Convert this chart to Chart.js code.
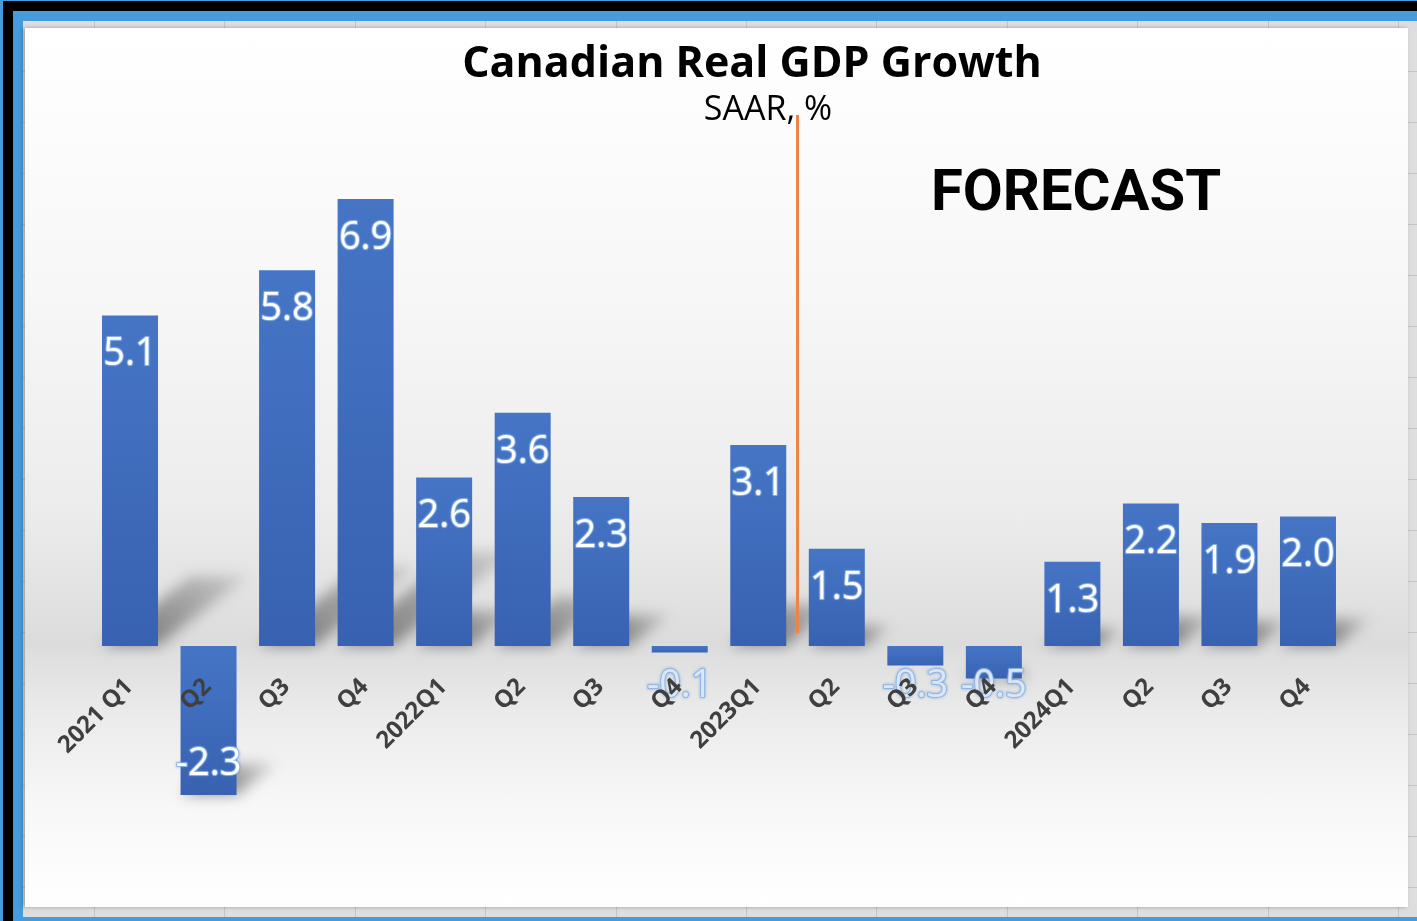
<!DOCTYPE html>
<html>
<head>
<meta charset="utf-8">
<title>Canadian Real GDP Growth</title>
<script src="https://cdn.jsdelivr.net/npm/chart.js@4.4.1/dist/chart.umd.min.js"></script>
<style>
  html, body { margin: 0; padding: 0; }
  body { width: 1417px; height: 921px; overflow: hidden; position: relative; background: #459bdb; }
  #outer { position: absolute; left: 3px; top: 1px; right: 0; bottom: 0; background: #000; }
  #inner { position: absolute; left: 13px; top: 11px; right: 0; bottom: 0; background: #459bdb; }
  #sheet {
    position: absolute; left: 23px; top: 21px; right: 0; bottom: 4px;
    background-color: #dedede;
    background-image:
      repeating-linear-gradient(to right, transparent 0, transparent 71px, #c4c4c4 71px, #c4c4c4 72px, transparent 72px, transparent 130.4px),
      repeating-linear-gradient(to bottom, transparent 0, transparent 50px, #c4c4c4 50px, #c4c4c4 51px, transparent 51px, transparent 33.5px);
  }
  #panel {
    position: absolute; left: 25px; top: 28px; width: 1383px; height: 879px;
    background: linear-gradient(to bottom, #ffffff 0%, #f7f7f7 30%, #ececec 55%, #dcdcdc 70%, #ebebeb 78%, #f7f7f7 88%, #ffffff 100%);
    box-shadow: -2px 0 4px rgba(0,0,0,0.3);
  }
  #chart { position: absolute; left: 0; top: 0; }
</style>
</head>
<body>
<div id="outer"></div>
<div id="inner"></div>
<div id="sheet"></div>
<div id="panel"></div>
<canvas id="chart" width="1417" height="921"></canvas>
<script>
// quarterly real GDP growth, SAAR %
const quarters = ["2021 Q1", "Q2", "Q3", "Q4", "2022Q1", "Q2", "Q3", "Q4",
                  "2023Q1", "Q2", "Q3", "Q4", "2024Q1", "Q2", "Q3", "Q4"];
const growth = [5.1, -2.3, 5.8, 6.9, 2.6, 3.6, 2.3, -0.1,
                3.1, 1.5, -0.3, -0.5, 1.3, 2.2, 1.9, 2.0];
const forecastStart = 8.5; // split between 2023Q1 and Q2

const chartTitle = "Canadian Real GDP Growth";
const chartSubtitle = "SAAR, %";
const forecastText = "FORECAST";

// perspective shadows behind the bars
const barShadows = {
  id: 'barShadows',
  beforeDatasetsDraw(chart) {
    const ctx = chart.ctx;
    const meta = chart.getDatasetMeta(0);
    ctx.save();
    ctx.filter = 'blur(7px)';
    meta.data.forEach(function (bar) {
      const w = bar.width;
      const h = Math.abs(bar.base - bar.y);
      if (h < 20) return;
      const baseY = Math.max(bar.base, bar.y);
      const dx = h * 0.27, dy = h * 0.21;
      const x0 = bar.x - w / 2, x1 = bar.x + w / 2;
      const g = ctx.createLinearGradient(x1, baseY, x1 + dx, baseY - dy);
      g.addColorStop(0, 'rgba(0,0,0,0.4)');
      g.addColorStop(1, 'rgba(0,0,0,0.1)');
      ctx.fillStyle = g;
      ctx.beginPath();
      ctx.moveTo(x0, baseY);
      ctx.lineTo(x1, baseY);
      ctx.lineTo(x1 + dx, baseY - dy);
      ctx.lineTo(x0 + dx, baseY - dy);
      ctx.closePath();
      ctx.fill();
    });
    ctx.restore();
  }
};

// value labels and the category labels hanging off the zero line
const barLabels = {
  id: 'barLabels',
  afterDatasetsDraw(chart) {
    const ctx = chart.ctx;
    const meta = chart.getDatasetMeta(0);
    const zero = chart.scales.y.getPixelForValue(0);
    ctx.save();
    ctx.font = '38px "Open Sans"';
    ctx.textAlign = 'center';
    ctx.textBaseline = 'middle';
    meta.data.forEach(function (bar, i) {
      const v = growth[i];
      const h = Math.abs(bar.base - bar.y);
      let y, fill;
      if (h >= 60) {
        y = v >= 0 ? bar.y + 39 : bar.y - 31;
        fill = '#ffffff';
      } else {
        y = zero + 40;
        fill = '#dbe7f7';
      }
      const txt = v.toFixed(1);
      ctx.lineJoin = 'round';
      ctx.shadowColor = 'rgba(90,140,210,0.8)';
      ctx.shadowBlur = 3;
      ctx.strokeStyle = 'rgba(140,180,230,0.9)';
      ctx.lineWidth = 2;
      ctx.strokeText(txt, bar.x, y);
      ctx.shadowBlur = 0;
      ctx.fillStyle = fill;
      ctx.fillText(txt, bar.x, y);
    });

    ctx.font = 'bold 24px "Open Sans"';
    ctx.fillStyle = '#3f3f3f';
    ctx.textAlign = 'right';
    ctx.textBaseline = 'middle';
    meta.data.forEach(function (bar, i) {
      ctx.save();
      ctx.translate(bar.x - 1, zero + 37);
      ctx.rotate(-Math.PI / 4);
      ctx.fillText(quarters[i], 0, 0);
      ctx.restore();
    });
    ctx.restore();
  }
};

// titles, forecast divider and marker
const decorations = {
  id: 'decorations',
  afterDraw(chart) {
    const ctx = chart.ctx;
    const x = chart.scales.x.getPixelForValue(forecastStart);
    const zero = chart.scales.y.getPixelForValue(0);
    ctx.save();
    ctx.strokeStyle = '#eb8446';
    ctx.lineWidth = 3;
    ctx.beginPath();
    ctx.moveTo(x, 115);
    ctx.lineTo(x, zero - 13);
    ctx.stroke();

    ctx.fillStyle = '#000';
    ctx.textAlign = 'center';
    ctx.textBaseline = 'middle';
    ctx.font = 'bold 43px "Open Sans"';
    ctx.fillText(chartTitle, 752, 65);
    ctx.font = '34px "Open Sans"';
    ctx.fillText(chartSubtitle, 768, 110);
    ctx.font = 'bold 58px Roboto';
    ctx.fillText(forecastText, 1076, 195);
    ctx.restore();
  }
};

function barFill(context) {
  const chart = context.chart;
  if (!chart.chartArea) return '#4170c0';
  const yScale = chart.scales.y;
  const v = growth[context.dataIndex];
  const top = yScale.getPixelForValue(Math.max(v, 0));
  const bottom = yScale.getPixelForValue(Math.min(v, 0));
  const g = chart.ctx.createLinearGradient(0, top, 0, bottom + 1);
  g.addColorStop(0, '#4675c6');
  g.addColorStop(1, '#3861b1');
  return g;
}

new Chart(document.getElementById('chart'), {
  type: 'bar',
  data: {
    labels: quarters,
    datasets: [{
      label: 'Real GDP growth',
      data: growth,
      backgroundColor: barFill,
      borderWidth: 0,
      categoryPercentage: 1.0,
      barPercentage: 0.713
    }]
  },
  plugins: [barShadows, barLabels, decorations],
  options: {
    responsive: false,
    animation: false,
    devicePixelRatio: 1,
    layout: { padding: { left: 90.75, right: 69.75, top: 127.6, bottom: 15.8 } },
    scales: {
      x: { display: false },
      y: { display: false, min: -4, max: 8 }
    },
    plugins: {
      legend: { display: false },
      tooltip: { enabled: false }
    }
  }
});
</script>
</body>
</html>
